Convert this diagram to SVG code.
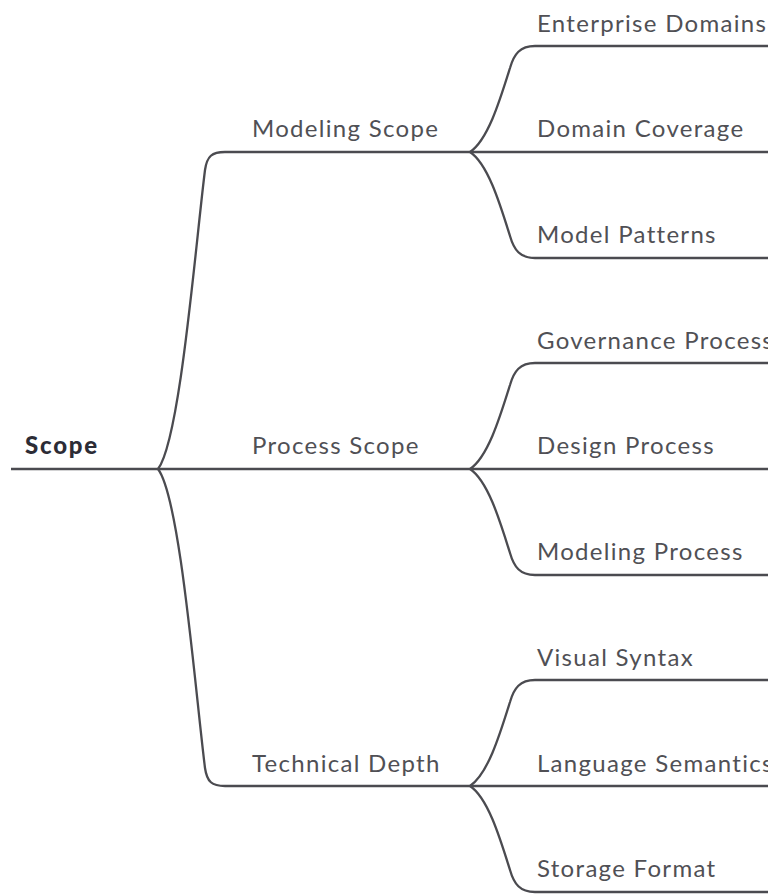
<svg xmlns="http://www.w3.org/2000/svg" width="768" height="895" viewBox="0 0 768 895">
<style>
.c{fill:none;stroke:#4b4b50;stroke-width:2.3;stroke-linecap:butt;stroke-linejoin:round}
.t{font-family:Lato,"Liberation Sans",sans-serif;font-size:24px;fill:#505055;letter-spacing:1.3px}
.r{font-family:Lato,"Liberation Sans",sans-serif;font-size:24px;font-weight:900;fill:#2c2c36;letter-spacing:1.8px}
</style>
<rect width="768" height="895" fill="#ffffff"/>
<g id="connectors">
<path class="c" d="M11 469 L768 469"/>
<path class="c" d="M158 469 C180 440,195 250,205 170 C207 156,212 152,225 152 L768 152"/>
<path class="c" d="M158 469 C180 498,195 688,205 768 C207 782,212 786,225 786 L768 786"/>
<path class="c" d="M470 152 C488 140,500 100,510 68 C514 54,520 46,535 46 L768 46"/>
<path class="c" d="M470 152 C488 164,500 204,510 236 C514 250,520 258,535 258 L768 258"/>
<path class="c" d="M470 469 C488 457,500 417,510 385 C514 371,520 363,535 363 L768 363"/>
<path class="c" d="M470 469 C488 481,500 521,510 553 C514 567,520 575,535 575 L768 575"/>
<path class="c" d="M470 786 C488 774,500 734,510 702 C514 688,520 680,535 680 L768 680"/>
<path class="c" d="M470 786 C488 798,500 838,510 870 C514 884,520 892,535 892 L768 892"/>
</g>
<g id="root"><text class="r" x="25" y="453.5">Scope</text></g>
<g id="modeling-scope"><text class="t" x="252" y="137">Modeling Scope</text></g>
<g id="process-scope"><text class="t" x="252" y="454">Process Scope</text></g>
<g id="technical-depth"><text class="t" x="252" y="771.5">Technical Depth</text></g>
<g id="enterprise-domains"><text class="t" x="537" y="31.5">Enterprise Domains</text></g>
<g id="domain-coverage"><text class="t" x="537" y="137">Domain Coverage</text></g>
<g id="model-patterns"><text class="t" x="537" y="242.5">Model Patterns</text></g>
<g id="governance-process"><text class="t" x="537" y="348.5">Governance Process</text></g>
<g id="design-process"><text class="t" x="537" y="454">Design Process</text></g>
<g id="modeling-process"><text class="t" x="537" y="560">Modeling Process</text></g>
<g id="visual-syntax"><text class="t" x="537" y="665.5">Visual Syntax</text></g>
<g id="language-semantics"><text class="t" x="537" y="771.5">Language Semantics</text></g>
<g id="storage-format"><text class="t" x="537" y="877">Storage Format</text></g>
</svg>
